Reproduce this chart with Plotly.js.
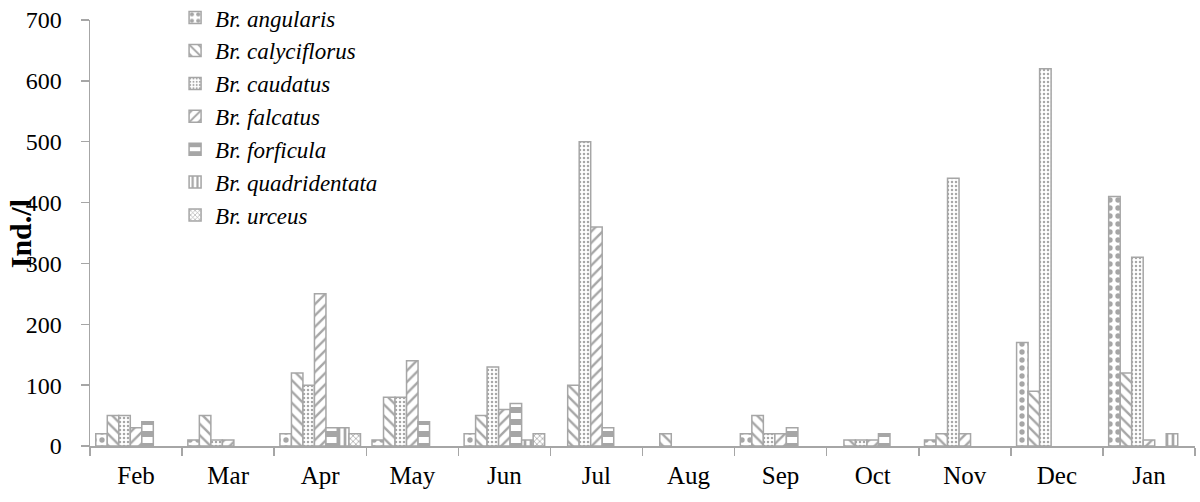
<!DOCTYPE html>
<html>
<head>
<meta charset="utf-8">
<script src="https://cdn.plot.ly/plotly-3.0.1.min.js"></script>
<style>html,body{margin:0;padding:0;background:#fff;}#chart{width:1200px;height:502px;}</style>
</head>
<body>
<div id="chart"></div>
<script>
const months = ['Feb','Mar','Apr','May','Jun','Jul','Aug','Sep','Oct','Nov','Dec','Jan'];
const speciesNames = ['Br. angularis','Br. calyciflorus','Br. caudatus','Br. falcatus','Br. forficula','Br. quadridentata','Br. urceus'];
const angularis     = [20, 10, 20, 10, 20, 0, 0, 20, 0, 10, 170, 410];
const calyciflorus  = [50, 50, 120, 80, 50, 100, 20, 50, 10, 20, 90, 120];
const caudatus      = [50, 10, 100, 80, 130, 500, 0, 20, 10, 440, 620, 310];
const falcatus      = [30, 10, 250, 140, 60, 360, 0, 20, 10, 20, 0, 10];
const forficula     = [40, 0, 30, 40, 70, 30, 0, 30, 20, 0, 0, 0];
const quadridentata = [0, 0, 30, 0, 10, 0, 0, 0, 0, 0, 0, 20];
const urceus        = [0, 0, 20, 0, 20, 0, 0, 0, 0, 0, 0, 0];
const yTicks = [0,100,200,300,400,500,600,700];

const seriesValues = [angularis, calyciflorus, caudatus, falcatus, forficula, quadridentata, urceus];
const patterns = [
  {shape: '.', size: 8, solidity: 0.35},
  {shape: '\\', size: 8, solidity: 0.3},
  {shape: '.', size: 4, solidity: 0.3},
  {shape: '/', size: 8, solidity: 0.3},
  {shape: '-', size: 12, solidity: 0.5},
  {shape: '|', size: 6, solidity: 0.45},
  {shape: 'x', size: 4, solidity: 0.35}
];
const FG = '#4d4d4d', EDGE = '#a6a6a6';
const traces = seriesValues.map((vals, i) => ({
  type: 'bar',
  name: '<i>' + speciesNames[i] + '</i>',
  x: months,
  // zero counts are not drawn as bars in the original chart
  y: vals.map(v => (v === 0 ? null : v)),
  legendgroup: 'g' + i,
  marker: {
    color: '#ffffff',
    line: {color: EDGE, width: 1.5},
    pattern: Object.assign({fgcolor: FG, bgcolor: '#ffffff', fillmode: 'overlay'}, patterns[i])
  },
  hoverinfo: 'x+y+name'
}));

const layout = {
  width: 1200, height: 502,
  margin: {l: 90, r: 5, t: 20, b: 56, autoexpand: false},
  paper_bgcolor: '#fff', plot_bgcolor: '#fff',
  font: {family: 'Liberation Serif, Times New Roman, serif', color: '#000', size: 22},
  barmode: 'group',
  bargap: 0.125,
  bargroupgap: 0,
  showlegend: true,
  legend: {
    x: 0.077, y: 1.056, xanchor: 'left', yanchor: 'top',
    font: {family: 'Liberation Serif, serif', size: 23, color: '#000'},
    traceorder: 'grouped', tracegroupgap: 0,
    bgcolor: 'rgba(0,0,0,0)', itemwidth: 30
  },
  xaxis: {
    type: 'category',
    categoryorder: 'array', categoryarray: months,
    tickson: 'boundaries',
    ticks: 'outside', ticklen: 8, tickcolor: EDGE, tickwidth: 1.5,
    showline: true, linecolor: EDGE, linewidth: 1.5,
    showgrid: false, zeroline: false,
    tickfont: {size: 25},
    ticklabelstandoff: 6
  },
  yaxis: {
    range: [0, 700], tickvals: yTicks, ticktext: yTicks.map(String),
    ticks: 'outside', ticklen: 8, tickcolor: EDGE, tickwidth: 1.5,
    showline: true, linecolor: EDGE, linewidth: 1.5,
    showgrid: false, zeroline: false,
    tickfont: {size: 24},
    ticklabelstandoff: 14
  },
  annotations: [{
    text: '<b>Ind./l</b>', textangle: -90,
    xref: 'paper', yref: 'paper',
    x: -0.063, y: 0.498, xanchor: 'center', yanchor: 'middle',
    showarrow: false,
    font: {family: 'Liberation Serif, serif', size: 30, color: '#000'}
  }]
};

Plotly.newPlot('chart', traces, layout, {displayModeBar: false, staticPlot: true});
</script>
</body>
</html>
